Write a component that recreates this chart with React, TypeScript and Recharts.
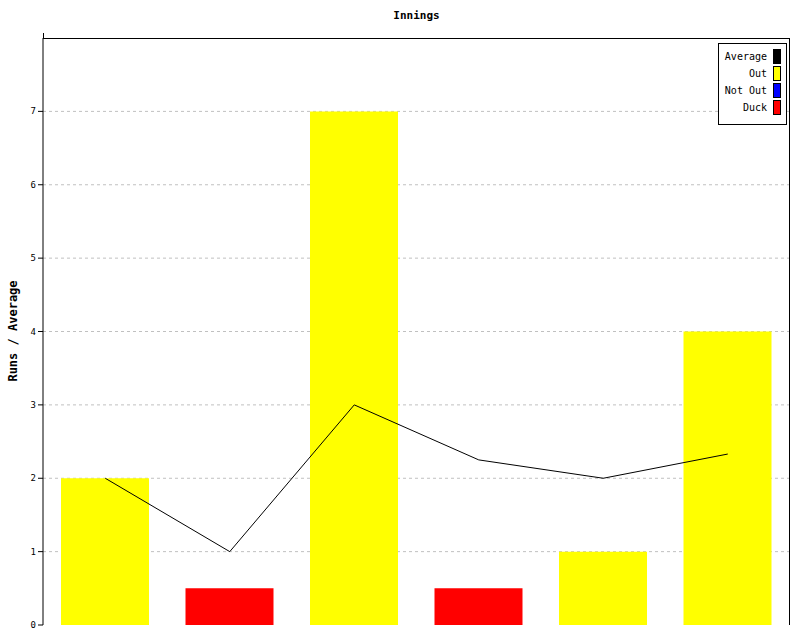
import React from "react";
import { ComposedChart, Bar, Line, XAxis, YAxis, CartesianGrid } from "recharts";

const innings = ["1", "2", "3", "4", "5", "6"];
const outRuns = [2, null, 7, null, 1, 4];
const notOutRuns = [null, null, null, null, null, null];
const duckRuns = [null, 0.5, null, 0.5, null, null];
const averages = [2, 1, 3, 2.25, 2, 2.33];
const yTicks = [0, 1, 2, 3, 4, 5, 6, 7];

const legendItems = [
  { name: "Average", color: "#000000" },
  { name: "Out", color: "#ffff00" },
  { name: "Not Out", color: "#0000ff" },
  { name: "Duck", color: "#ff0000" },
];

const data = innings.map((k, i) => ({
  name: k,
  out: outRuns[i],
  notOut: notOutRuns[i],
  duck: duckRuns[i],
  avg: averages[i],
}));

const FONT = "'DejaVu Sans Mono', monospace";

const YTick = (props: any) => {
  const { x, y, payload } = props;
  return (
    <text x={x} y={y + 3} textAnchor="end" fontSize={9} fontFamily={FONT} fill="#000">
      {payload.value}
    </text>
  );
};

export default function App() {
  return (
    <div style={{ position: "absolute", left: 0, top: 0, width: 800, height: 640, background: "#fff" }}>
      <div
        style={{
          position: "absolute",
          left: 43,
          width: 747,
          top: 9,
          textAlign: "center",
          fontFamily: FONT,
          fontWeight: "bold",
          fontSize: 11,
        }}
      >
        Innings
      </div>
      <div
        style={{
          position: "absolute",
          left: 13,
          top: 331,
          transform: "translate(-50%, -50%) rotate(-90deg)",
          fontFamily: FONT,
          fontWeight: "bold",
          fontSize: 12,
          whiteSpace: "nowrap",
        }}
      >
        Runs / Average
      </div>
      <ComposedChart
        width={800}
        height={640}
        data={data}
        margin={{ top: 38, right: 10, bottom: 15, left: 0 }}
        barCategoryGap={0}
      >
        <CartesianGrid vertical={false} stroke="#c0c0c0" strokeDasharray="3 3" horizontalValues={[1, 2, 3, 4, 5, 6, 7]} />
        <XAxis dataKey="name" tick={false} tickLine={false} height={0} axisLine={{ stroke: "#000", strokeWidth: 1 }} />
        <YAxis
          domain={[0, 8]}
          ticks={yTicks}
          width={43}
          tickSize={5}
          tick={<YTick />}
          tickLine={{ stroke: "#000" }}
          axisLine={{ stroke: "#000" }}
          interval={0}
        />
        <Bar dataKey="out" stackId="a" fill="#ffff00" barSize={88} isAnimationActive={false} />
        <Bar dataKey="notOut" stackId="a" fill="#0000ff" barSize={88} isAnimationActive={false} />
        <Bar dataKey="duck" stackId="a" fill="#ff0000" barSize={88} isAnimationActive={false} />
        <Line dataKey="avg" type="linear" stroke="#000" strokeWidth={1} dot={false} isAnimationActive={false} />
      </ComposedChart>
      <div
        style={{
          position: "absolute",
          left: 43,
          top: 38,
          width: 747,
          height: 587,
          borderTop: "1px solid #000",
          borderRight: "1px solid #000",
          boxSizing: "border-box",
          pointerEvents: "none",
        }}
      />
      <div
        style={{
          position: "absolute",
          left: 43,
          top: 33,
          width: 1,
          height: 6,
          background: "#000",
          pointerEvents: "none",
        }}
      />
      <div
        style={{
          position: "absolute",
          left: 718,
          top: 43,
          width: 69,
          height: 82,
          border: "1px solid #000",
          background: "#fff",
          fontFamily: FONT,
          fontSize: 10,
          boxSizing: "border-box",
          paddingTop: 4,
        }}
      >
        {legendItems.map((it) => (
          <div
            key={it.name}
            style={{ display: "flex", justifyContent: "flex-end", alignItems: "center", height: 17, paddingRight: 5, whiteSpace: "nowrap" }}
          >
            <span style={{ marginRight: 6 }}>{it.name}</span>
            <span style={{ width: 6, height: 13, background: it.color, border: "1px solid #000", display: "inline-block", flex: "none" }} />
          </div>
        ))}
      </div>
    </div>
  );
}
